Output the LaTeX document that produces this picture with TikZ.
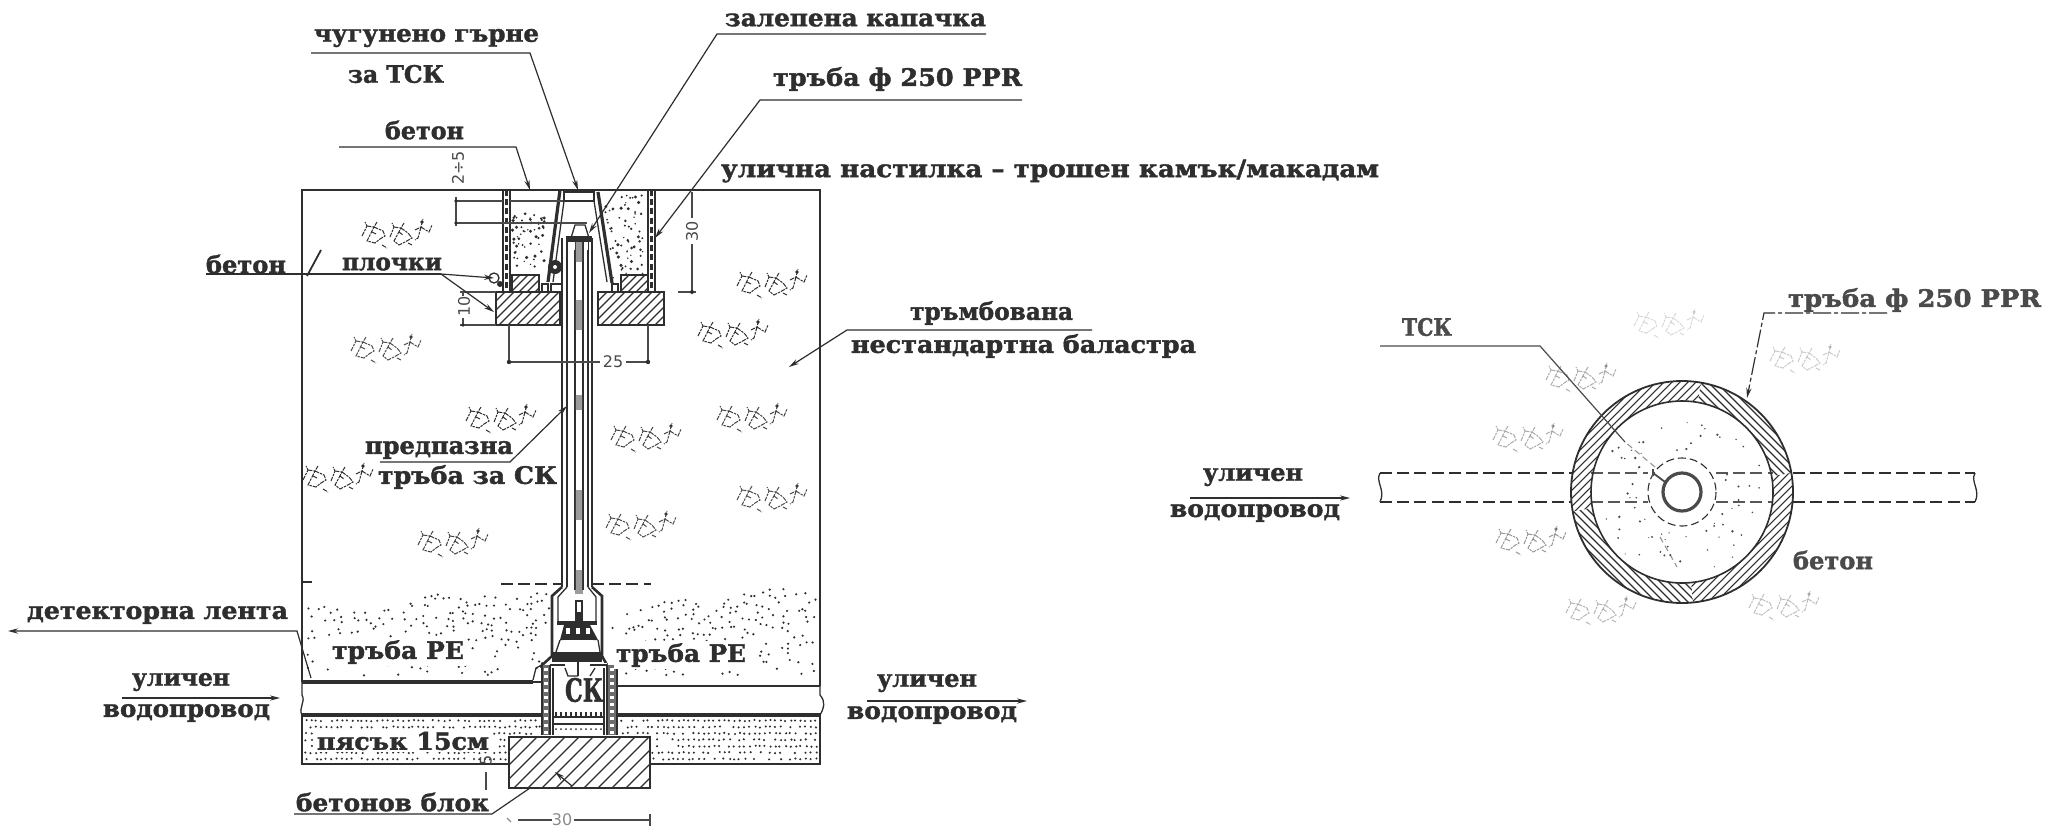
\documentclass[tikz,border=0pt]{standalone}
\usepackage{fontspec}
\usepackage{graphicx}
\setmainfont{DejaVu Serif}[BoldFeatures={FakeBold=1.6}]
\newfontfamily\dimfont{DejaVu Sans}
\usetikzlibrary{arrows.meta}
\definecolor{ink}{HTML}{2E2E2E}
\definecolor{inkb}{HTML}{4A4A4A}
\tikzset{
  frameline/.style={draw=ink,line width=1.3pt},
  thinline/.style={draw=ink,line width=.65pt},
  leader/.style={draw=ink,line width=.6pt},
  leadarrow/.style={draw=ink,line width=.6pt,-{Stealth[length=5pt,width=2.6pt]}},
  dimline/.style={draw=inkb,line width=.55pt},
  hatchline/.style={draw=ink,line width=.55pt},
  rockline/.style={draw=ink,line width=.5pt,dash pattern=on 2.2pt off .5pt on 1.2pt off .5pt},
  dashline/.style={draw=ink,line width=.6pt,dash pattern=on 6pt off 2.6pt},
  txt/.style={text=ink,inner sep=0pt,font=\fontsize{12}{12}\selectfont\bfseries},
  dimtxt/.style={text=inkb,inner sep=0pt,font=\fontsize{8}{8}\selectfont\dimfont},
}
\newcommand\lbl[6][]{% opts, name, x0, x1, y, text
  \pgfmathsetlengthmacro\lblw{(#4-#3)*0.5pt}%
  \pgfmathsetmacro\lblx{(#3+#4)/2}%
  \node[txt,#1] (#2) at (\lblx,#5) {\resizebox{\lblw}{\height}{#6}};}
\newcommand\hatchrect[5]{%
  \begin{scope}
  \clip (#1,#2) rectangle (#3,#4);
  \pgfmathsetmacro\hh{#4-#2}
  \pgfmathtruncatemacro\nn{(#3-#1+#4-#2)/#5+1}
  \foreach \i in {0,...,\nn}{
    \pgfmathsetmacro\sx{#1-\hh+\i*#5}
    \draw[hatchline] (\sx,#4) -- ({\sx+\hh},#2);
  }
  \end{scope}}
\newcommand\rocks[3]{%
  \begin{scope}[shift={(#1,#2)},opacity=#3]
  \draw[rockline] (-34,3)--(-29,-7)--(-31,-11) (-29,-7)--(-22,-6)--(-19,-11) (-22,-6)--(-13,-2)--(-11,3)--(-16,6)--(-21,10)--(-29,8)--cycle;
  \draw[rockline] (-6,4)--(-2,-6)--(-4,-10) (-2,-6)--(5,-5)--(8,-10) (5,-5)--(12,0)--(16,5)--(9,9)--(3,12)--(-2,8)--cycle;
  \draw[rockline] (19,-3)--(25,-6)--(27,-14) (25,-6)--(33,-1)--(36,-8) (25,-6)--(22,5)--(19,7);
  \fill[ink] (26,-11) circle (1.8);
  \draw[rockline] (-14,12)--(-9,15) (-24,-1)--(-20,1) (3,-1)--(7,2) (12,10)--(16,12);
  \end{scope}}
\begin{document}
\begin{tikzpicture}[x=.5pt,y=-.5pt]
\useasboundingbox (0,0) rectangle (2049,831);
\fill[white] (0,0) rectangle (2049,831);
\pgfmathsetseed{11}
% ---- soil stipple
\foreach \i in {0,...,80}{
  \foreach \j in {0,...,12}{
    \pgfmathsetmacro\dx{305+6.4*\i+5*rnd}
    \pgfmathsetmacro\dy{600+9*sin(\dx*1.3)+5*sin(\dx*3.1)+\j*6.5+5*rnd}
    \pgfmathsetmacro\thr{0.38+(\dy-600)*0.005}
    \pgfmathsetmacro\keep{(rnd>\thr && \dy<676 && \dx<818 && (\dx<549 || \dx>610)) ? 1 : 0}
    \ifdim\keep pt>0.5pt
      \fill[ink] (\dx,\dy) circle (1.2);
    \fi
  }
}
% ---- sand stipple
\foreach \i in {0,...,100}{
  \foreach \j in {0,...,6}{
    \pgfmathsetmacro\dx{305+5.1*\i+2*rnd}
    \pgfmathsetmacro\dy{720+\j*6.4+1.2*rnd}
    \pgfmathsetmacro\keep{(rnd>0.14 && (\dx<540 || \dx>618) && (\dy<734 || \dx<507 || \dx>652)) ? 1 : 0}
    \ifdim\keep pt>0.5pt
      \fill[ink] (\dx,\dy) circle (1.15);
    \fi
  }
}
% ---- ballast
\rocks{396}{233}{1}\rocks{771}{283}{1}\rocks{732}{333}{1}\rocks{385}{348}{.85}
\rocks{500}{418}{1}\rocks{645}{437}{.9}\rocks{751}{417}{.9}\rocks{771}{497}{.85}
\rocks{337}{477}{1}\rocks{640}{525}{.85}\rocks{452}{542}{.9}
% ---- frame
\coordinate (ftl) at (302,190);\coordinate (ftr) at (820,190);
\coordinate (fbl) at (302,764);\coordinate (fbr) at (820,764);
\draw[frameline] (302,682)--(ftl)--(ftr)--(820,686);
\draw[frameline] (302,715)--(fbl)--(509,764);
\draw[frameline] (650,764)--(fbr)--(820,715);
% pipes
\draw[draw=ink,line width=2.4pt] (302,682)--(533,682);
\draw[frameline,line width=1.6pt] (302,715)--(542,715);
\draw[frameline] (617,686)--(820,686);
\draw[frameline,line width=1.6pt] (617,715)--(820,715);
\draw[thinline] (302,682)--(302,695) .. controls (306,702) and (298,708) .. (302,715);
\draw[thinline] (820,686)--(820,695) .. controls (826,702) and (824,708) .. (820,715);
% concrete above plates
\foreach \i in {1,...,55}{
  \pgfmathsetmacro\dx{512+rnd*34}\pgfmathsetmacro\dy{212+rnd*58}
  \pgfmathsetmacro\ds{.7+rnd*1.1}
  \fill[ink] (\dx,\dy) circle (\ds);
}
\foreach \i in {1,...,65}{
  \pgfmathsetmacro\dy{195+rnd*85}
  \pgfmathsetmacro\dx{603+(\dy-195)*.12+rnd*(40-(\dy-195)*.12)}
  \pgfmathsetmacro\ds{.7+rnd*1.1}
  \fill[ink] (\dx,\dy) circle (\ds);
}
% walls
\foreach \xa/\xb in {503/510,648/655}{
  \draw[thinline] (\xa,190)--(\xa,292) (\xb,190)--(\xb,292);
  \draw[ink,line width=1.1pt,dash pattern=on 3pt off 1.6pt] ({(\xa+\xb)/2},190)--({(\xa+\xb)/2},292);
}
% plates
\hatchrect{496}{292}{560}{325}{9}
\hatchrect{598}{292}{664}{325}{9}
\hatchrect{512}{275}{539}{292}{8}
\hatchrect{621}{275}{648}{292}{8}
\draw[frameline] (496,292) rectangle (560,325);
\draw[frameline] (598,292) rectangle (664,325);
\draw[thinline] (512,292)--(512,275)--(539,275)--(539,292);
\draw[thinline] (621,292)--(621,275)--(648,275)--(648,292);
% pot
\draw[frameline,line width=1.6pt] (560,190)--(548,282);
\draw[frameline,line width=1.6pt] (598,192)--(612,283);
\draw[thinline] (564,201)--(553,282);
\draw[thinline] (594,201)--(607,282);
\draw[thinline] (564,192) rectangle (594,201);
\draw[thinline] (542,284) rectangle (548,292);
\draw[thinline] (551,284) rectangle (562,292);
\draw[thinline] (612,284) rectangle (618,292);
\fill[ink] (555,267) circle (7);
\fill[white] (555,267) circle (2);
\fill[ink] (500,284) circle (3);\draw[thinline] (494,278) circle (5);
% tube
\fill[white] (562,238) rectangle (592,590);
\foreach \x in {562,567,588,592}{\draw[frameline,line width=.9pt] (\x,238)--(\x,587);}
\draw[thinline] (575,238)--(575,590) (583,238)--(583,590);
\foreach \ya/\yb in {240/262,300/330,395/410,490/520,570/600}{\fill[inkb,opacity=.55] (575,\ya) rectangle (583,\yb);}
\draw[thinline] (571,238)--(575,225)--(585,225)--(589,238);
\fill[ink] (566,236) rectangle (592,242);
\fill[white] (571,242) rectangle (575,250);\fill[white] (584,242) rectangle (588,250);
% valve neck
\fill[white] (552,594) rectangle (602,662);
\draw[frameline] (562,587)--(552,596)--(552,656)--(540,667);
\draw[frameline] (592,587)--(602,596)--(602,656)--(607,665);
\draw[thinline] (567,587)--(558,597)--(558,624);
\draw[thinline] (588,587)--(596,597)--(596,624);
\fill[ink] (557,621) rectangle (597,625);
\fill[ink] (575,600) rectangle (583,622);
\fill[white] (577,602) rectangle (581,612);
\fill[ink] (564,625)--(590,625)--(598,640)--(560,640)--cycle;
\fill[white] (563,640)--(593,640)--(596,650)--(566,650)--cycle;
\fill[white] (566,628) rectangle (570,634);\fill[white] (576,628) rectangle (580,634);\fill[white] (586,628) rectangle (590,634);
\draw[thinline] (560,640)--(556,652) (598,640)--(600,652);
\fill[ink] (552,652) rectangle (602,662);
% valve body
\fill[white] (550,663) rectangle (607,736);
\fill[ink!70] (542,665) rectangle (550,735);
\fill[ink!70] (607,665) rectangle (617,735);
\draw[frameline,line width=.9pt] (542,665)--(542,735) (550,665)--(550,735);
\draw[frameline,line width=.9pt] (607,665)--(607,735) (617,665)--(617,735);
\foreach \y in {668,675,...,733}{\fill[white] (544,\y) rectangle (548,\y+3);\fill[white] (610,\y) rectangle (614,\y+3);}
\draw[thinline] (553,668)--(553,735) (604,668)--(604,735);
\draw[thinline] (550,665)--(565,665) (590,665)--(607,665);
\draw[thinline] (533,680)--(536,668)--(542,665);
\draw[frameline] (533,682)--(542,682);
\draw[thinline] (553,717)--(604,717) (553,724)--(604,724);
\foreach \x in {556,561,...,601}{\draw[thinline] (\x,712)--(\x,717);\fill[ink] (\x,729) circle (1);}
\draw[thinline] (565,668)--(568,676)--(578,676)(595,668)--(590,676);
\draw[thinline] (578,662)--(578,676);
% block
\hatchrect{509}{737}{650}{788}{14}
\draw[frameline] (509,737) rectangle (650,788);
\draw[leadarrow] (572,786)--(555,772);
% level dashes
\draw[dashline] (501,584)--(562,584);
\draw[dashline] (592,584)--(651,584);
\draw[thinline] (302,582)--(312,582);
% dims
\coordinate (d30a) at (692,192);\coordinate (d30b) at (692,292);
\coordinate (d30t) at (678,292);\coordinate (d30u) at (696,292);
\draw[dimline] (d30a)--(692,218) (692,244)--(d30b);
\draw[dimline] (d30t)--(d30u);
\fill[ink] (d30b) circle (2);
\node[dimtxt,rotate=90] (t30) at (692,231) {30};
\node[dimtxt,rotate=90] (t25v) at (458,168) {2÷5};
\draw[dimline] (455,201)--(503,201) (455,223)--(587,223) (456,197)--(456,226);
\draw[dimline] (510,201)--(563,201);
\fill[ink] (456,201) circle (1.8);\fill[ink] (456,223) circle (1.8);
\node[dimtxt,rotate=90] (t10) at (464,306) {10};
\draw[dimline] (460,292)--(496,292) (460,325)--(496,325) (463,292)--(463,296) (463,318)--(463,326);
\fill[ink] (463,325) circle (1.8);
\draw[dimline] (509,325)--(509,362) (648,325)--(648,362);
\draw[dimline] (509,362)--(600,362) (626,362)--(648,362);
\fill[ink] (509,362) circle (2.2);\fill[ink] (648,362) circle (2.2);
\node[dimtxt] (t25) at (613,362) {25};
\draw[dimline] (486,772)--(486,790);
\node[dimtxt,rotate=90] (t5) at (486,760) {5};
\draw[dimline] (518,820)--(552,820) (574,820)--(650,820) (650,814)--(650,826);
\node[dimtxt,text=black!45] (t30b) at (562,820) {30};
\draw[dimline,black!45] (507,818)--(511,822);
% ---- leaders
\coordinate (la) at (311,53);\coordinate (lb) at (530,53);\coordinate (lc) at (578,190);
\draw[leadarrow] (la)--(lb)--(lc);
\coordinate (ma) at (986,34);\coordinate (mb) at (717,34);\coordinate (mc) at (589,233);
\draw[leadarrow] (ma)--(mb)--(mc);
\coordinate (na) at (1022,100);\coordinate (nb) at (760,100);\coordinate (nc) at (655,238);
\draw[leadarrow] (na)--(nb)--(nc);
\coordinate (oa) at (339,147);\coordinate (ob) at (516,147);\coordinate (oc) at (530,190);
\draw[leadarrow] (oa)--(ob)--(oc);
\coordinate (pa) at (206,274);\coordinate (pb) at (441,274);\coordinate (pc) at (494,278);\coordinate (pd) at (494,312);
\draw[leader] (pa)--(pb);
\draw[leadarrow] (pb)--(pc);
\draw[leadarrow] (pb)--(pd);
\coordinate (qa) at (1092,330);\coordinate (qb) at (847,330);\coordinate (qc) at (789,367);
\draw[leadarrow] (qa)--(qb)--(qc);
\coordinate (ra) at (380,462);\coordinate (rb) at (510,462);\coordinate (rc) at (567,406);
\draw[leadarrow] (ra)--(rb)--(rc);
\coordinate (sa) at (8,631);\coordinate (sb) at (297,631);\coordinate (sc) at (311,678);
\draw[leadarrow] (sc)--(sb)--(sa);
\coordinate (ta) at (122,698);\coordinate (tb) at (280,698);
\draw[leadarrow] (ta)--(tb);
\coordinate (ua) at (867,701);\coordinate (ub) at (1027,701);
\draw[leadarrow] (ua)--(ub);
\coordinate (va) at (294,814);\coordinate (vb) at (492,814);\coordinate (vc) at (530,788);
\draw[leader] (va)--(vb)--(vc);
\draw[draw=ink,line width=.9pt] (307,276)--(321,250);
% ---- text left
\lbl{t1}{314}{539}{38}{чугунено  гърне}
\lbl{t2}{348}{444}{74}{за  ТСК}
\lbl{t3}{385}{464}{130}{бетон}
\lbl{t4}{725}{986}{20}{залепена капачка}
\lbl{t5a}{773}{1022}{79}{тръба ф 250 PPR}
\lbl{t6}{721}{1379}{171}{улична настилка – трошен камък/макадам}
\lbl{t7}{206}{286}{264}{бетон}
\lbl{t8}{342}{442}{264}{плочки}
\lbl{t9}{910}{1073}{313}{тръмбована}
\lbl{t10a}{851}{1196}{346}{нестандартна баластра}
\lbl{t11}{365}{513}{450}{предпазна}
\lbl{t12}{378}{557}{477}{тръба за СК}
\lbl{t13}{27}{288}{615}{детекторна лента}
\lbl[fill=white,inner sep=1pt]{t14}{332}{464}{652}{тръба PE}
\lbl[fill=white,inner sep=1pt]{t15}{616}{746}{655}{тръба PE}
\lbl{t16}{132}{230}{682}{уличен}
\lbl{t17}{103}{270}{713}{водопровод}
\lbl{t18}{877}{977}{683}{уличен}
\lbl{t19}{847}{1017}{715}{водопровод}
\lbl[fill=white,inner sep=1pt]{t20}{317}{489}{741}{пясък 15см}
\lbl{t21}{296}{489}{802}{бетонов блок}
\lbl[font=\fontsize{16}{16}\selectfont\bfseries]{t22}{565}{603}{690}{СК}
% ---- right diagram
\begin{scope}[shift={(1682,492)}]
  \coordinate (cc) at (0,0);
  \draw[dashline] (-302,-19)--(293,-19);
  \draw[dashline] (-302,10)--(293,10);
  \fill[white] (cc) circle (111);
  % "/" parts of the ring
  \begin{scope}
    \clip (0,0)--(200,-35)--(300,300)--(20,200)--cycle;
    \clip (cc) circle (111);
    \foreach \i in {-30,...,30}{\pgfmathsetmacro\sx{\i*8}\draw[hatchline] (\sx-120,120)--(\sx+120,-120);}
  \end{scope}
  \begin{scope}
    \clip (0,0)--(-197,35)--(-300,-300)--(35,-200)--cycle;
    \clip (cc) circle (111);
    \foreach \i in {-30,...,30}{\pgfmathsetmacro\sx{\i*8}\draw[hatchline] (\sx-120,120)--(\sx+120,-120);}
  \end{scope}
  % "\" parts of the ring
  \begin{scope}
    \clip (0,0)--(35,-200)--(200,-35)--cycle;
    \clip (cc) circle (111);
    \foreach \i in {-30,...,30}{\pgfmathsetmacro\sx{\i*8}\draw[hatchline] (\sx-120,-120)--(\sx+120,120);}
  \end{scope}
  \begin{scope}
    \clip (0,0)--(-197,35)--(20,200)--cycle;
    \clip (cc) circle (111);
    \foreach \i in {-30,...,30}{\pgfmathsetmacro\sx{\i*8}\draw[hatchline] (\sx-120,-120)--(\sx+120,120);}
  \end{scope}
  \fill[white] (cc) circle (91);
  \draw[frameline,line width=.9pt] (cc) circle (111);
  \draw[frameline,line width=.8pt] (cc) circle (91);
  \draw[dashline,opacity=.8] (-91,-19)--(-34,-19) (34,-19)--(91,-19);
  \draw[dashline,opacity=.8] (-91,10)--(-34,10) (34,10)--(91,10);
  \draw[dashline,line width=.55pt,dash pattern=on 4pt off 2pt] (cc) circle (34);
  \draw[inkb,line width=1.6pt] (cc) circle (19);
  \draw[inkb,line width=.9pt] (-17,-10)--(-29,-19) (-29,-23)--(-29,-16);
  \foreach \i in {1,...,70}{
    \pgfmathsetmacro\ang{rnd*360}\pgfmathsetmacro\rr{42+rnd*42}
    \pgfmathsetmacro\ds{.6+rnd*.7}
    \fill[inkb] (\ang:\rr) circle (\ds);
  }
  \draw[dimline,dash pattern=on 3pt off 2pt,opacity=.6] (-27,-25)--(-57,-50);
  \draw[dimline,dash pattern=on 3pt off 2pt,opacity=.6] (-22,45)--(-5,75);
\end{scope}
\rocks{1668}{323}{.18}\rocks{1804}{358}{.25}\rocks{1580}{377}{.4}\rocks{1527}{437}{.4}
\rocks{1530}{540}{.5}\rocks{1600}{610}{.35}\rocks{1783}{605}{.3}
% squiggles
\draw[thinline] (1380,473) .. controls (1375,482) and (1386,490) .. (1380,502);
\draw[thinline] (1975,473) .. controls (1970,482) and (1981,490) .. (1975,502);
% right leaders
\coordinate (wa) at (1380,346);\coordinate (wb) at (1540,346);\coordinate (wc) at (1625,442);
\draw[leader,draw=inkb] (wa)--(wb)--(wc);
\coordinate (xa) at (1887,313);\coordinate (xb) at (1764,313);\coordinate (xc) at (1747,398);
\draw[leadarrow,dash pattern=on 9pt off 1.5pt on 2pt off 1.5pt] (xa)--(xb)--(xc);
\coordinate (ya) at (1190,498);\coordinate (yb) at (1350,498);
\draw[leadarrow] (ya)--(yb);
\lbl[text=inkb]{r1}{1402}{1452}{327}{ТСК}
\lbl[text=inkb]{r2}{1788}{2041}{300}{тръба ф 250 PPR}
\lbl{r3}{1203}{1303}{477}{уличен}
\lbl{r4}{1170}{1340}{513}{водопровод}
\lbl[text=inkb]{r5}{1793}{1873}{560}{бетон}
\end{tikzpicture}
\end{document}
